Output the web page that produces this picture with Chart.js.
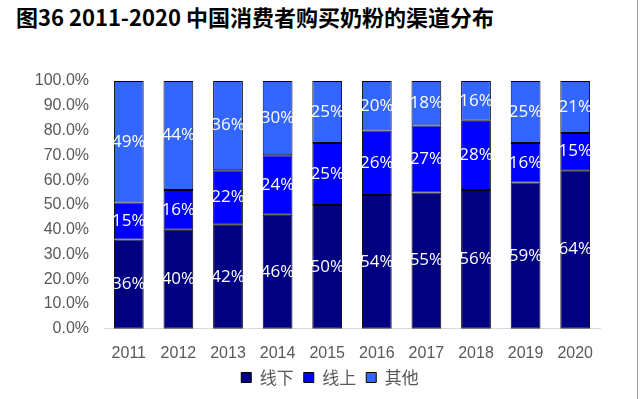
<!DOCTYPE html>
<html>
<head>
<meta charset="utf-8">
<script src="https://cdn.jsdelivr.net/npm/chart.js@4.4.1/dist/chart.umd.min.js"></script>
<style>
  body { margin: 0; background: #fff; }
  .wrap { position: relative; width: 640px; height: 399px; overflow: hidden; }
  .title {
    position: absolute; left: 16px; top: 0px;
    font: bold 22px "Noto Sans CJK SC", sans-serif; color: #000;
    white-space: nowrap;
  }
  .edge { position: absolute; left: 637px; top: 0; width: 1px; height: 399px; background: #999; }
  canvas { position: absolute; left: 0; top: 0; }
</style>
</head>
<body>
<div class="wrap">
  <div class="title">图36 2011-2020 中国消费者购买奶粉的渠道分布</div>
  <div class="edge"></div>
  <canvas id="chart" width="640" height="399"></canvas>
</div>
<script>
const years = ['2011', '2012', '2013', '2014', '2015', '2016', '2017', '2018', '2019', '2020'];
const offline = [36, 40, 42, 46, 50, 54, 55, 56, 59, 64];
const online = [15, 16, 22, 24, 25, 26, 27, 28, 16, 15];
const other = [49, 44, 36, 30, 25, 20, 18, 16, 25, 21];

// white % labels in the middle of every segment
const segmentLabels = {
    id: 'segmentLabels',
    afterDatasetsDraw(chart) {
        const ctx = chart.ctx;
        ctx.save();
        ctx.font = '17px "Open Sans", sans-serif';
        ctx.fillStyle = '#fff';
        ctx.textAlign = 'center';
        ctx.textBaseline = 'middle';
        chart.data.datasets.forEach((ds, i) => {
            chart.getDatasetMeta(i).data.forEach((bar, j) => {
                const { x, y, base } = bar.getProps(['x', 'y', 'base'], true);
                ctx.fillText(ds.data[j] + '%', x, (y + base) / 2);
            });
        });
        ctx.restore();
    }
};

// legend in the original sits right of centre and close under the year labels
const legendShift = {
    id: 'legendShift',
    afterLayout(chart) {
        const lg = chart.legend;
        lg.left += 30; lg.right += 30;
        lg.top -= 19; lg.bottom -= 19;
    }
};

const tickColor = '#595959';

new Chart(document.getElementById('chart'), {
    type: 'bar',
    data: {
        labels: years,
        datasets: [
            { label: '线下', data: offline, backgroundColor: '#000080' },
            { label: '线上', data: online, backgroundColor: '#0000ff' },
            { label: '其他', data: other, backgroundColor: '#3366ff' },
        ].map(d => ({
            ...d, borderColor: '#000', borderWidth: 1, borderSkipped: false,
            categoryPercentage: 1, barPercentage: 0.6,
        })),
    },
    plugins: [segmentLabels, legendShift],
    options: {
        responsive: false,
        animation: false,
        layout: { padding: { top: 81, right: 40, bottom: -16, left: 0 } },
        plugins: {
            legend: {
                position: 'bottom',
                labels: {
                    boxWidth: 10, boxHeight: 10, padding: 10,
                    color: tickColor,
                    font: { family: '"Noto Sans CJK SC", sans-serif', size: 17 },
                },
            },
            tooltip: { enabled: false },
        },
        scales: {
            x: {
                stacked: true,
                grid: { display: false, drawTicks: false },
                border: { color: '#d9d9d9', width: 1 },
                ticks: { color: tickColor, padding: 15, font: { family: '"Liberation Sans", Arial', size: 16 } },
            },
            y: {
                stacked: true,
                min: 0, max: 100,
                grid: { display: false, drawTicks: false },
                border: { display: false },
                afterFit: scale => { scale.width = 104; },
                ticks: {
                    stepSize: 10, padding: 15, color: tickColor,
                    font: { family: '"Liberation Sans", Arial', size: 16 },
                    callback: v => v.toFixed(1) + '%',
                },
            },
        },
    },
});
</script>
</body>
</html>
